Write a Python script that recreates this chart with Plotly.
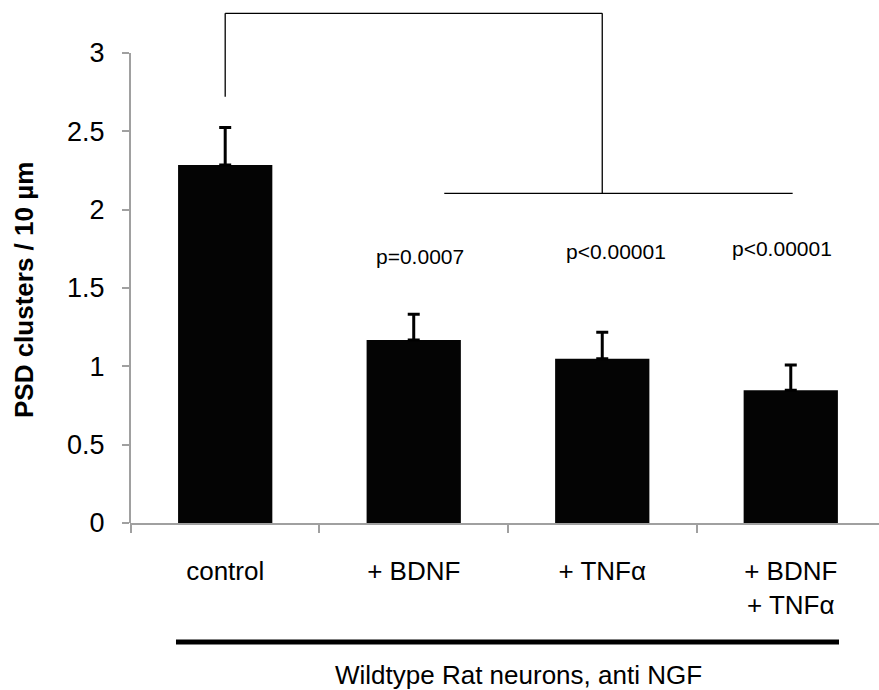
import plotly.graph_objects as go

categories = ["control", "+ BDNF", "+ TNFα", "+ BDNF<br>+ TNFα"]
values = [2.285, 1.168, 1.049, 0.847]
err_up = [0.24, 0.164, 0.168, 0.161]
p_labels = ["", "p=0.0007", "p<0.00001", "p<0.00001"]
p_label_y = [None, 1.70, 1.73, 1.753]
p_label_shift = [0, 6, 14, -9]
y_ticks = [0, 0.5, 1, 1.5, 2, 2.5, 3]
y_ticktext = ["0", "0.5", "1", "1.5", "2", "2.5", "3"]
bracket_top = 3.253
bracket_start = 2.721
bracket_low = 2.104
bracket_low_x = [1.162, 3.01]

FONT = "Liberation Sans, Arial, sans-serif"
AXIS_GRAY = "#a0a0a0"

fig = go.Figure()
fig.add_trace(go.Bar(
    x=categories, y=values, width=0.5,
    marker=dict(color="#040404", line=dict(width=0)),
    error_y=dict(type="data", symmetric=False, array=err_up,
                 arrayminus=[0] * len(err_up), color="black",
                 thickness=3, width=6),
    showlegend=False, hoverinfo="skip",
))

shapes = []
# y axis line from 0 to 3
shapes.append(dict(type="line", xref="paper", yref="y", x0=0, x1=0,
                   y0=y_ticks[0], y1=y_ticks[-1],
                   line=dict(color=AXIS_GRAY, width=2), layer="above"))
# bracket
lw = 1.3
shapes.append(dict(type="line", xref="x", yref="y", x0=0, x1=0,
                   y0=bracket_start, y1=bracket_top, line=dict(color="black", width=lw)))
shapes.append(dict(type="line", xref="x", yref="y", x0=0, x1=2,
                   y0=bracket_top, y1=bracket_top, line=dict(color="black", width=lw)))
shapes.append(dict(type="line", xref="x", yref="y", x0=2, x1=2,
                   y0=bracket_top, y1=bracket_low, line=dict(color="black", width=lw)))
shapes.append(dict(type="line", xref="x", yref="y", x0=bracket_low_x[0], x1=bracket_low_x[1],
                   y0=bracket_low, y1=bracket_low, line=dict(color="black", width=lw)))
# thick group line
shapes.append(dict(type="line", xref="paper", yref="paper", x0=0.0614, x1=0.9466,
                   y0=-0.2275, y1=-0.2275, line=dict(color="black", width=5)))

annotations = []
for i, (lab, yy, sh) in enumerate(zip(p_labels, p_label_y, p_label_shift)):
    if lab:
        annotations.append(dict(x=i, y=yy, xref="x", yref="y", text=lab,
                                showarrow=False, xshift=sh,
                                xanchor="center", yanchor="middle",
                                font=dict(family=FONT, size=21, color="black")))
annotations.append(dict(x=-0.1415, y=0.4455, xref="paper", yref="paper",
                        text="<b>PSD clusters / 10 µm</b>", textangle=-90,
                        showarrow=False, xanchor="center", yanchor="middle",
                        font=dict(family=FONT, size=26, color="black")))
annotations.append(dict(x=0.519, y=-0.2906, xref="paper", yref="paper",
                        text="Wildtype Rat neurons, anti NGF", showarrow=False,
                        xanchor="center", yanchor="middle",
                        font=dict(family=FONT, size=26, color="black")))

fig.update_layout(
    width=879, height=690,
    margin=dict(l=130, r=0, t=0, b=167),
    paper_bgcolor="white", plot_bgcolor="white",
    shapes=shapes, annotations=annotations,
    xaxis=dict(type="category", range=[-0.505, 3.468], showline=True,
               linecolor=AXIS_GRAY, linewidth=2, ticks="outside",
               tickson="boundaries", ticklen=8, tickwidth=2, tickcolor=AXIS_GRAY,
               showgrid=False, zeroline=False, ticklabelstandoff=24,
               tickfont=dict(family=FONT, size=26, color="black")),
    yaxis=dict(range=[0, 3.338], showline=False, showgrid=False, zeroline=False,
               tickvals=y_ticks, ticktext=y_ticktext, ticks="outside",
               ticklen=7, tickwidth=2, tickcolor=AXIS_GRAY, ticklabelstandoff=12,
               tickfont=dict(family=FONT, size=27, color="black")),
)

fig.write_html("out.html")
